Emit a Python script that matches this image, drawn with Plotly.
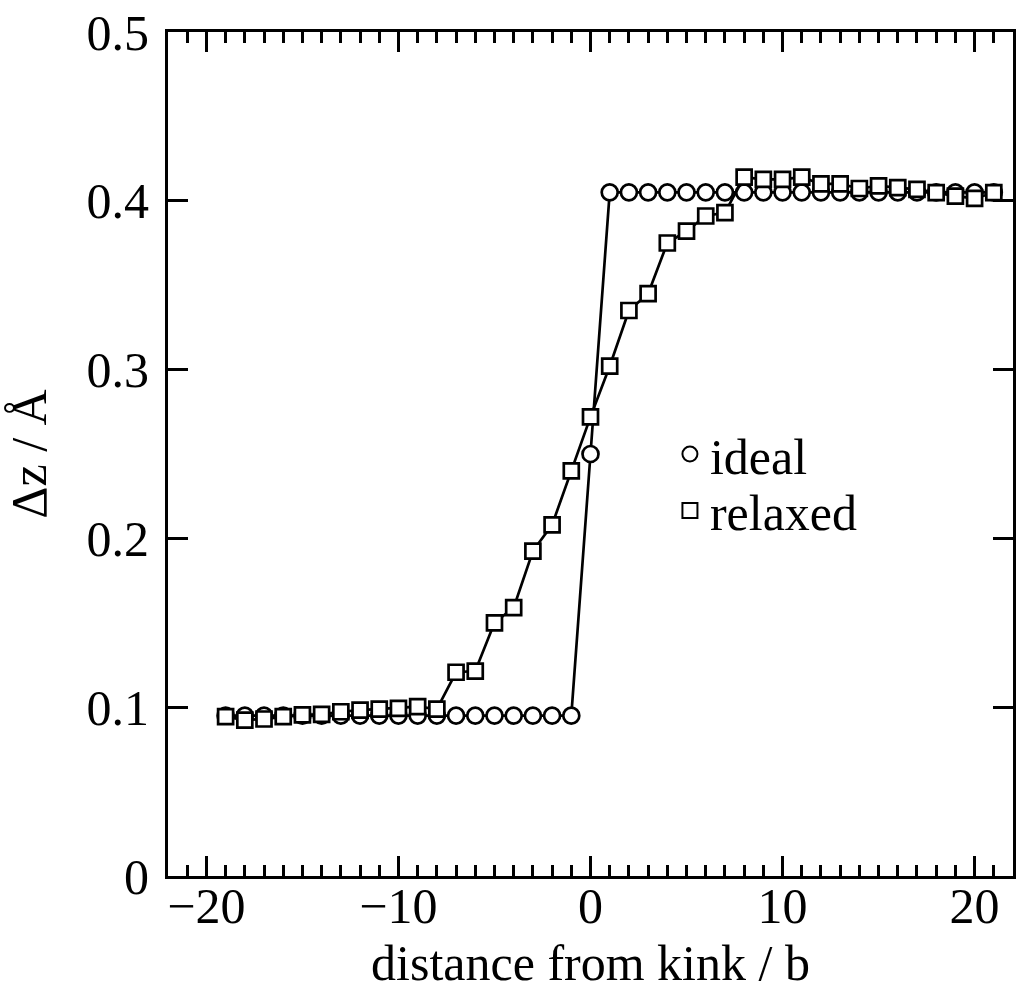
import plotly.graph_objects as go

# data
x_vals = list(range(-19, 22))
ideal_y = [0.095] * 19 + [0.25] + [0.405] * 21
relaxed_y = [0.0944, 0.0924, 0.093, 0.0944, 0.0954, 0.0958, 0.0973, 0.0983, 0.0989, 0.0993,
             0.1003, 0.0989, 0.1207, 0.1214, 0.150, 0.159, 0.1925, 0.208, 0.240, 0.272,
             0.302, 0.335, 0.345, 0.375, 0.382, 0.391, 0.393, 0.414, 0.4127, 0.4127,
             0.414, 0.410, 0.410, 0.4073, 0.4088, 0.4078, 0.4068, 0.4048, 0.4028, 0.4014,
             0.4048]
series_names = ["ideal", "relaxed"]
x_title = "distance from kink / b"
y_title = "Δz / Å"

FONT = "Liberation Serif"
FS = 50

fig = go.Figure()
fig.add_trace(go.Scatter(x=x_vals, y=ideal_y, mode="lines+markers", showlegend=False,
                         line=dict(color="black", width=2.7),
                         marker=dict(symbol="circle", size=16, color="white",
                                     line=dict(color="black", width=2.7))))
fig.add_trace(go.Scatter(x=x_vals, y=relaxed_y, mode="lines+markers", showlegend=False,
                         line=dict(color="black", width=2.7),
                         marker=dict(symbol="square", size=15, color="white",
                                     line=dict(color="black", width=2.7))))
# legend entries (markers only)
fig.add_trace(go.Scatter(x=[None], y=[None], mode="markers", name=series_names[0],
                         legend="legend",
                         marker=dict(symbol="circle", size=15, color="white",
                                     line=dict(color="black", width=2))))
fig.add_trace(go.Scatter(x=[None], y=[None], mode="markers", name=series_names[1],
                         legend="legend2",
                         marker=dict(symbol="square", size=15, color="white",
                                     line=dict(color="black", width=2))))

axis_common = dict(
    showline=True, linecolor="black", linewidth=3, mirror="ticks",
    ticks="inside", ticklen=20, tickwidth=2.5, tickcolor="black",
    showgrid=False, zeroline=False, automargin=False,
    tickfont=dict(family=FONT, size=FS, color="black"),
)
fig.update_xaxes(range=[-22, 22], dtick=10, tick0=0, ticklabelstandoff=-16,
                 minor=dict(dtick=1, ticks="inside", ticklen=11, tickwidth=2.5, tickcolor="black", showgrid=False),
                 title=dict(text=x_title, font=dict(family=FONT, size=FS, color="black"), standoff=12),
                 **axis_common)
fig.update_yaxes(range=[0, 0.5], dtick=0.1, tick0=0, ticklabelstandoff=6,
                 title=dict(text=y_title, font=dict(family=FONT, size=FS, color="black"), standoff=25),
                 **axis_common)

legend_common = dict(font=dict(family=FONT, size=FS, color="black"), bgcolor="rgba(0,0,0,0)",
                     borderwidth=0, xanchor="left", yanchor="middle", itemwidth=30)
fig.update_layout(
    width=1017, height=1000,
    margin=dict(l=168, r=4, t=32, b=124),
    paper_bgcolor="white", plot_bgcolor="white",
    legend=dict(x=0.594, y=0.5, **legend_common),
    legend2=dict(x=0.594, y=0.433, **legend_common),
)
fig.write_html("out.html", config={"displayModeBar": False},
               post_script="document.body.style.margin='0';document.body.style.overflow='hidden';")
